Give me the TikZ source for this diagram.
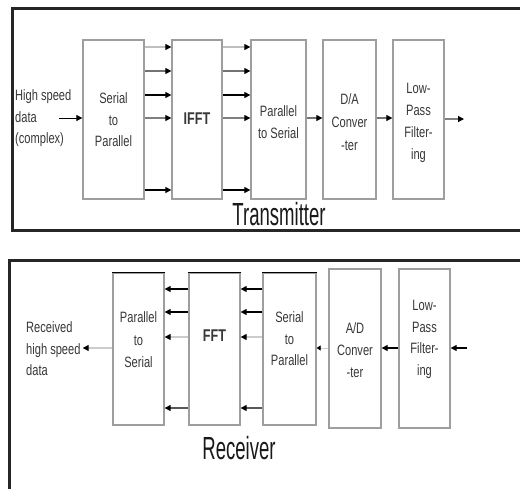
\documentclass[tikz,border=0pt]{standalone}
\usepackage{fontspec}
\setmainfont{Liberation Sans}
\newfontfamily\boxfont[FakeStretch=0.74]{Liberation Sans}
\newfontfamily\titlefont[FakeStretch=0.58]{Liberation Sans}
\usetikzlibrary{arrows.meta}
\begin{document}
\begin{tikzpicture}[x=1pt,y=-1pt,
  box/.style={draw=black!38, line width=1.3pt, inner sep=0pt},
  lbl/.style={align=center, inner sep=0pt, text=black!78, font=\boxfont\fontsize{15}{21.5}\selectfont},
  lbll/.style={align=left, inner sep=0pt, text=black!78, font=\boxfont\fontsize{15}{21.5}\selectfont},
  ttl/.style={inner sep=0pt, text=black!90, font=\titlefont\fontsize{32}{32}\selectfont},
  arr/.style={line width=1.2pt, -{Triangle[length=6pt,width=6pt,color=black]}},
  frame/.style={line width=3pt, draw=black!85}]
\useasboundingbox (0,0) rectangle (520,488);
\fill[white] (0,0) rectangle (520,488);
% frames
\draw[frame] (12.5,8.5) rectangle (540,230);
\draw[frame] (9,520) -- (9,260.5) -- (540,260.5);

% ---------- Transmitter ----------
\node[box, minimum width=61pt, minimum height=159pt] (tsp) at (113.5,119.5) {};
\node[box, minimum width=50pt, minimum height=159pt] (tifft) at (197,119.5) {};
\node[box, minimum width=55pt, minimum height=159pt] (tps) at (278.5,119.5) {};
\node[box, minimum width=53pt, minimum height=159pt] (tda) at (349.5,119.5) {};
\node[box, minimum width=51pt, minimum height=159pt] (tlpf) at (418.5,119.5) {};

\node[lbl] (tspt) at (113.5,120) {Serial\\to\\Parallel};
\node[lbl, font=\boxfont\bfseries\fontsize{17}{20}\selectfont] (tifftt) at (197,119) {IFFT};
\node[lbl] (tpst) at (278.5,122) {Parallel\\to Serial};
\node[lbl, font=\boxfont\fontsize{15}{23}\selectfont] (tdat) at (349.5,122) {D/A\\Conver\\-ter};
\node[lbl, font=\boxfont\fontsize{15}{22}\selectfont] (tlpft) at (418.5,123) {Low-\\Pass\\Filter-\\ing};
\node[lbll, anchor=west] (tin) at (15,118.5) {High speed\\data\\(complex)};

\coordinate (tinl) at (59,118);
\coordinate (tout) at (464,119);
\coordinate (r1) at (0,47);
\coordinate (r2) at (0,71);
\coordinate (r3) at (0,95);
\coordinate (r4) at (0,118);
\coordinate (r5) at (0,190);

\draw[arr, line width=0.8pt] (tinl) -- (tsp.west |- tinl);
\draw[arr, draw=black!25] (tsp.east |- r1) -- (tifft.west |- r1);
\draw[arr, draw=black!55] (tsp.east |- r2) -- (tifft.west |- r2);
\draw[arr] (tsp.east |- r3) -- (tifft.west |- r3);
\draw[arr, draw=black!50] (tsp.east |- r4) -- (tifft.west |- r4);
\draw[arr] (tsp.east |- r5) -- (tifft.west |- r5);
\draw[arr, draw=black!25] (tifft.east |- r1) -- (tps.west |- r1);
\draw[arr, draw=black!55] (tifft.east |- r2) -- (tps.west |- r2);
\draw[arr] (tifft.east |- r3) -- (tps.west |- r3);
\draw[arr, draw=black!50] (tifft.east |- r4) -- (tps.west |- r4);
\draw[arr] (tifft.east |- r5) -- (tps.west |- r5);
\draw[arr, draw=black!55] (tps.east |- r4) -- (tda.west |- r4);
\draw[arr, draw=black!55] (tda.east |- r4) -- (tlpf.west |- r4);
\draw[arr, draw=black!50] (tlpf.east |- tout) -- (tout);

\node[ttl] (ttitle) at (279,214) {Transmitter};

% ---------- Receiver ----------
\node[box, minimum width=51pt, minimum height=152pt] (bps) at (138.5,349) {};
\node[box, minimum width=51pt, minimum height=152pt] (bfft) at (214.5,349) {};
\node[box, minimum width=53pt, minimum height=152pt] (bsp) at (289.5,349) {};
\node[box, minimum width=52pt, minimum height=159pt] (bad) at (355,348.5) {};
\node[box, minimum width=51pt, minimum height=159pt] (blpf) at (424.5,348.5) {};
\draw[line width=1.3pt] (bps.north west) -- (bps.north east);
\draw[line width=1.3pt] (bfft.north west) -- (bfft.north east);
\draw[line width=1.3pt] (bsp.north west) -- (bsp.north east);

\node[lbl, font=\boxfont\fontsize{15}{22.5}\selectfont] (bpst) at (138.5,340) {Parallel\\to\\Serial};
\node[lbl, font=\boxfont\bfseries\fontsize{17}{20}\selectfont] (bfftt) at (214.5,336) {FFT};
\node[lbl, font=\boxfont\fontsize{15}{21.5}\selectfont] (bspt) at (289.5,339) {Serial\\to\\Parallel};
\node[lbl, font=\boxfont\fontsize{15}{22}\selectfont] (badt) at (355,350) {A/D\\Conver\\-ter};
\node[lbl, font=\boxfont\fontsize{15}{21.5}\selectfont] (blpft) at (424.5,339.5) {Low-\\Pass\\Filter-\\ing};
\node[lbll, anchor=west] (bout) at (26,349) {Received\\high speed\\data};

\coordinate (bin) at (467,348);
\coordinate (s1) at (0,289);
\coordinate (s2) at (0,312);
\coordinate (s3) at (0,337);
\coordinate (s4) at (0,408);
\coordinate (sm) at (0,348);

\draw[arr] (bfft.west |- s1) -- (bps.east |- s1);
\draw[arr] (bfft.west |- s2) -- (bps.east |- s2);
\draw[arr, draw=black!20] (bfft.west |- s3) -- (bps.east |- s3);
\draw[arr, draw=black!65] (bfft.west |- s4) -- (bps.east |- s4);
\draw[arr] (bsp.west |- s1) -- (bfft.east |- s1);
\draw[arr] (bsp.west |- s2) -- (bfft.east |- s2);
\draw[arr, draw=black!20] (bsp.west |- s3) -- (bfft.east |- s3);
\draw[arr, draw=black!65] (bsp.west |- s4) -- (bfft.east |- s4);
\draw[arr, draw=black!20] (bps.west |- sm) -- ([xshift=2pt]bout.east |- sm);
\draw[line width=0.8pt, draw=black!20, -{Triangle[length=4pt,width=5pt,color=black]}] (bad.west |- sm) -- (bsp.east |- sm);
\draw[arr] (blpf.west |- sm) -- (bad.east |- sm);
\draw[arr] (bin) -- (blpf.east |- bin);

\node[ttl] (btitle) at (239,448) {Receiver};
\end{tikzpicture}
\end{document}
